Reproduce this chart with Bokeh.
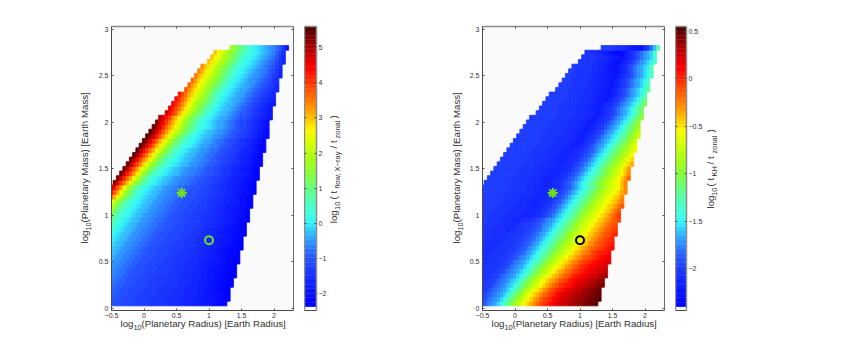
import math
from bokeh.embed import file_html
from bokeh.resources import INLINE
from bokeh.layouts import column, row
from bokeh.models import ColumnDataSource, FixedTicker, Label, LinearAxis, LinearColorMapper, Range1d
from bokeh.plotting import figure
from bokeh.transform import transform

# mass of each grid row, first radius column of each row, last radius column of each row
row_mass = [round(0.05 * i, 2) for i in range(1, 57)]
row_start = [0]*26 + [1,2,3,4,5,6,7,8,9,10,11,12,13,14,15,17,18,19,20,21,23,24,25,26,27,28,30,31,32,37]
row_end = [35,36,36,36,37,37,38,38,38,39,39,39,40,40,40,41,41,41,42,42,42,43,43,43,44,44,44,45,45,45,46,46,46,47,47,47,48,48,48,48,49,49,49,50,50,50,51,51,51,52,52,52,53,53,53,54]

# colour-bar level (0-62) read from each cell, left panel
flow_levels = [
[10,10,10,9,9,9,9,8,8,8,8,8,7,7,7,7,7,6,6,6,6,5,5,5,5,4,4,4,3,3,3,2,2,1,1,0],
[11,10,10,10,9,9,9,9,8,8,8,8,8,7,7,7,7,7,6,6,6,6,5,5,5,5,4,4,4,3,3,3,2,2,1,1,0],
[11,11,10,10,10,9,9,9,9,8,8,8,8,8,7,7,7,7,7,6,6,6,6,5,5,5,5,4,4,3,3,3,2,2,1,1,0],
[12,11,11,10,10,10,9,9,9,9,8,8,8,8,8,7,7,7,7,7,6,6,6,5,5,5,5,4,4,3,3,2,2,1,1,0,0],
[12,12,11,11,10,10,10,9,9,9,9,8,8,8,8,8,7,7,7,7,7,6,6,6,5,5,5,4,4,3,3,2,2,1,1,1,0,0],
[13,12,12,11,11,10,10,10,9,9,9,9,8,8,8,8,8,7,7,7,7,6,6,6,6,5,5,5,4,4,3,3,2,2,1,1,0,0],
[13,13,12,12,11,11,10,10,10,9,9,9,9,8,8,8,8,8,7,7,7,7,6,6,6,5,5,5,4,4,3,3,2,2,1,1,0,0,0],
[14,13,13,12,12,11,11,10,10,10,9,9,9,9,8,8,8,8,7,7,7,7,6,6,6,6,5,5,4,4,3,3,2,2,2,1,1,0,0],
[14,14,13,13,12,12,11,11,10,10,10,9,9,9,9,8,8,8,8,7,7,7,7,6,6,6,5,5,5,4,4,3,3,2,2,1,1,0,0],
[15,14,14,13,13,12,12,11,11,10,10,10,9,9,9,9,8,8,8,8,7,7,7,6,6,6,6,5,5,4,4,3,3,3,2,2,1,1,0,0],
[16,15,14,14,13,13,12,12,11,11,10,10,10,9,9,9,9,8,8,8,8,7,7,7,6,6,6,5,5,5,4,4,3,3,2,2,1,1,0,0],
[16,16,15,14,14,13,13,12,12,11,11,10,10,10,9,9,9,9,8,8,8,7,7,7,7,6,6,6,5,5,4,4,3,3,2,2,1,1,1,0],
[17,16,16,15,14,14,13,13,12,12,11,11,10,10,10,9,9,9,9,8,8,8,8,7,7,7,6,6,6,5,5,4,4,3,3,2,2,1,1,0,0],
[18,17,16,16,15,14,14,13,13,12,12,11,11,10,10,10,9,9,9,9,8,8,8,7,7,7,7,6,6,5,5,5,4,4,3,3,2,2,1,1,0],
[19,18,17,16,16,15,14,14,13,13,12,12,11,11,10,10,10,9,9,9,9,8,8,8,7,7,7,6,6,6,5,5,4,4,3,3,2,2,1,1,0],
[20,19,18,17,16,16,15,14,14,13,13,12,12,11,11,10,10,10,9,9,9,9,8,8,8,7,7,7,6,6,5,5,5,4,4,3,3,2,2,1,1,0],
[21,20,19,18,17,16,16,15,14,14,13,13,12,12,11,11,10,10,10,9,9,9,9,8,8,8,7,7,7,6,6,5,5,4,4,3,3,2,2,1,1,0],
[23,21,20,19,18,17,16,16,15,14,14,13,13,12,12,11,11,10,10,10,9,9,9,8,8,8,8,7,7,6,6,6,5,5,4,4,3,3,2,1,1,0],
[25,23,21,20,19,18,17,16,16,15,14,14,13,13,12,12,11,11,10,10,10,9,9,9,8,8,8,8,7,7,6,6,6,5,5,4,4,3,3,2,1,1,0],
[28,25,23,21,20,19,18,17,16,16,15,14,14,13,13,12,12,11,11,10,10,10,9,9,9,8,8,8,7,7,7,6,6,5,5,4,4,3,3,2,2,1,0],
[31,28,25,23,21,20,19,18,17,16,16,15,14,14,13,13,12,12,11,11,10,10,10,9,9,9,8,8,8,7,7,6,6,5,5,4,4,3,3,2,2,1,0],
[35,31,28,25,23,21,20,19,18,17,16,16,15,14,14,13,13,12,12,11,11,10,10,10,9,9,9,8,8,8,7,7,6,6,5,5,4,4,3,3,2,2,1,0],
[39,35,31,28,25,23,21,20,19,18,17,16,16,15,14,14,13,13,12,12,11,11,10,10,10,9,9,9,8,8,7,7,7,6,6,5,5,4,4,3,2,2,1,0],
[47,43,38,34,30,27,24,22,20,19,18,17,16,16,15,14,14,13,13,12,12,11,11,10,10,10,9,9,9,8,8,7,7,6,6,5,5,4,4,3,2,2,1,0],
[53,48,44,39,34,30,27,24,22,20,19,18,17,16,16,15,14,14,13,13,12,12,11,11,10,10,10,9,9,9,8,8,7,7,6,6,5,5,4,3,3,2,2,1,0],
[58,53,48,44,39,34,30,27,24,22,20,19,18,17,16,16,15,14,14,13,13,12,12,11,11,10,10,10,9,9,8,8,7,7,6,6,5,5,4,4,3,2,2,1,0],
[60,55,50,46,42,37,33,29,26,24,22,20,19,18,17,16,16,15,14,14,13,13,12,12,11,11,10,10,9,9,8,8,7,7,6,5,5,4,4,3,2,2,1,0],
[61,56,51,47,43,38,34,30,27,24,22,20,19,18,17,16,16,15,14,14,13,13,12,12,11,11,10,10,9,9,8,8,7,7,6,5,5,4,4,3,2,2,1,0],
[61,57,52,48,44,40,35,31,28,25,23,21,20,19,18,17,16,16,15,14,14,13,13,12,12,11,11,10,10,9,9,8,7,7,6,5,5,4,4,3,2,1,0],
[61,57,52,48,44,40,36,32,29,26,24,22,20,19,18,17,16,16,15,14,14,13,13,12,12,11,10,10,9,9,8,7,7,6,5,5,4,3,3,2,1,0],
[61,58,53,49,45,41,37,33,30,27,25,23,21,20,19,18,17,16,16,15,14,14,13,13,12,11,11,10,10,9,8,8,7,6,6,5,4,4,3,2,1,0],
[61,58,53,49,45,42,38,34,31,28,25,23,21,20,19,18,17,16,16,15,14,14,13,13,12,11,11,10,9,9,8,7,7,6,5,4,4,3,2,1,0],
[62,58,54,50,46,42,38,34,31,28,26,24,22,20,19,18,17,16,16,15,14,14,13,12,12,11,10,10,9,8,8,7,6,5,5,4,3,2,1,0],
[62,58,54,50,46,43,39,35,32,29,26,24,22,21,19,18,17,16,16,15,14,14,13,12,12,11,10,10,9,8,8,7,6,5,5,4,3,2,1,1],
[62,59,55,51,47,43,40,36,33,30,27,25,23,21,20,19,18,17,16,15,15,14,13,13,12,11,10,10,9,8,7,7,6,5,4,3,2,1,1],
[62,59,55,51,47,43,40,36,33,30,27,25,23,21,20,19,18,17,16,15,15,14,13,12,12,11,10,9,9,8,7,6,5,5,4,3,2,1],
[62,59,56,52,48,44,41,37,34,31,28,26,24,22,20,19,18,17,16,16,15,14,14,13,12,11,11,10,9,8,8,7,6,5,4,3,2,1],
[62,59,56,52,48,44,41,38,35,32,29,27,25,23,21,19,18,17,16,16,15,14,14,13,12,11,10,10,9,8,7,6,5,4,3,2,1],
[61,58,55,51,47,44,41,38,35,32,29,27,25,23,21,20,19,18,17,16,15,15,14,13,12,11,10,9,9,8,7,6,5,4,3,2],
[60,57,54,50,46,43,40,37,34,31,28,26,24,22,20,19,18,17,16,15,15,14,13,12,11,10,9,9,8,7,6,5,4,3,2],
[58,55,52,49,45,42,39,36,33,30,28,26,24,22,20,19,18,17,16,15,15,14,13,12,11,10,10,9,8,7,6,5,4,3,3],
[56,53,50,47,43,40,37,34,31,29,27,25,23,21,19,18,17,16,16,15,14,13,12,11,11,10,9,8,7,6,5,4,3],
[55,52,49,46,43,40,37,34,31,29,27,25,23,21,19,18,17,16,16,15,14,13,12,11,10,9,8,7,6,5,4,3],
[54,51,48,45,42,39,36,33,31,29,27,25,23,21,19,18,17,16,16,15,14,13,12,11,10,9,8,7,6,5,4,3],
[53,50,47,44,41,38,36,33,31,29,27,25,23,21,19,18,17,16,15,15,14,13,12,11,10,9,8,7,6,5,4],
[52,49,46,43,41,38,35,33,31,28,26,24,22,20,19,18,17,16,15,15,14,13,12,11,10,9,8,7,6,5],
[48,45,42,40,37,35,32,30,28,26,24,22,20,19,18,17,16,15,15,14,13,12,11,10,9,8,7,6,5],
[47,44,42,39,37,34,32,30,28,26,24,22,20,19,18,17,16,15,15,14,13,12,11,10,9,8,7,5],
[47,44,41,39,36,34,32,30,28,26,24,22,20,19,18,17,16,15,14,14,13,12,11,10,9,7,6],
[46,43,41,38,36,34,32,30,28,26,24,22,20,19,18,17,16,15,14,14,13,12,11,10,8,7,5],
[45,43,40,38,36,33,31,29,27,25,23,21,20,19,18,17,16,15,14,13,13,12,10,9,7,5],
[45,42,40,37,35,33,31,29,27,25,23,21,20,19,18,17,16,15,14,13,12,11,10,8,6],
[42,40,37,35,33,31,29,27,25,23,21,20,19,18,17,16,15,14,13,12,11,9,7,5],
[42,39,37,35,33,31,29,27,25,23,21,20,19,18,17,16,15,14,13,12,10,8,5],
[42,39,37,35,32,30,28,26,24,22,21,20,19,18,17,16,15,14,13,11,9,6],
[32,30,28,26,24,22,20,19,18,17,16,15,14,13,12,10,7,3],
]

# colour-bar level (0-62) read from each cell, right panel
kh_levels = [
[9,11,13,14,15,17,20,23,26,29,31,34,37,39,41,43,45,47,49,50,51,53,54,55,56,56,57,58,58,59,59,60,60,61,61,62],
[8,10,12,13,14,15,17,20,23,26,29,31,34,37,39,41,43,45,47,49,50,51,53,54,55,56,56,57,58,58,59,59,60,60,61,61,62],
[8,9,11,12,13,14,15,17,20,23,26,29,31,34,37,39,41,43,45,47,48,50,51,53,54,55,56,56,57,58,58,59,59,60,60,61,61],
[8,8,9,11,12,13,14,15,17,20,22,25,28,31,34,36,38,40,42,44,46,48,49,51,52,53,54,55,56,56,57,58,58,59,60,60,61],
[7,8,8,9,11,12,13,14,16,17,20,22,25,28,30,33,35,37,39,41,43,45,47,48,50,51,52,53,54,55,56,56,57,58,58,59,60,60],
[7,7,8,8,9,11,12,13,14,16,17,19,22,25,28,30,33,35,37,39,41,43,44,46,48,49,50,52,53,54,55,55,56,57,57,58,59,59],
[7,7,7,8,8,9,11,12,13,14,15,17,19,21,24,27,29,32,34,36,38,40,42,43,45,47,48,49,51,52,53,54,54,55,56,56,57,58,58],
[7,7,7,7,8,8,9,10,12,13,14,15,17,19,21,24,26,29,31,33,35,37,39,41,43,44,46,47,49,50,51,52,53,54,55,55,56,56,57],
[6,7,7,7,7,8,8,9,10,12,13,14,15,17,19,21,24,26,28,31,33,35,37,39,40,42,44,45,47,48,50,51,52,53,54,54,55,55,56],
[6,6,7,7,7,7,8,8,9,10,12,13,14,15,17,19,21,23,25,28,30,32,34,36,38,40,41,43,45,46,48,49,50,51,52,53,54,54,55,55],
[6,6,6,7,7,7,7,8,8,9,10,11,13,14,15,17,19,21,23,25,27,30,32,34,36,37,39,41,42,44,45,47,48,49,50,51,52,53,54,54],
[6,6,6,6,7,7,7,7,8,8,9,10,11,12,14,15,17,19,21,23,25,27,29,31,33,35,37,38,40,42,43,45,46,47,49,50,51,52,52,53],
[6,6,6,6,6,7,7,7,7,8,8,9,10,11,12,14,15,17,19,21,23,25,27,29,31,33,35,36,38,40,41,43,44,46,47,48,49,50,51,52,53],
[7,6,6,6,6,6,7,7,7,7,8,8,9,10,11,12,14,15,17,19,21,23,25,27,29,31,33,35,36,38,39,41,42,44,45,47,48,49,50,51,52],
[7,7,6,6,6,6,6,7,7,7,7,8,8,9,10,11,12,14,15,17,19,21,23,25,27,29,31,33,35,36,38,39,41,42,44,45,47,48,49,50,51],
[7,7,7,6,6,6,6,6,7,7,7,7,8,8,9,10,11,12,14,15,17,19,21,23,25,27,29,31,33,35,36,38,39,41,42,44,45,47,48,49,50,51],
[7,7,7,7,6,6,6,6,5,6,6,7,7,8,8,9,10,11,12,14,15,17,19,21,23,25,27,29,31,33,35,36,38,39,41,42,44,45,47,48,49,50],
[8,7,7,7,7,6,6,6,6,5,5,6,7,7,8,8,9,10,11,13,14,15,17,19,21,23,25,27,29,31,33,35,36,38,39,41,42,44,45,47,48,49],
[8,8,7,7,7,7,6,6,6,6,5,5,6,6,7,7,8,9,10,11,13,14,15,17,19,21,23,25,27,29,31,33,35,36,38,39,41,42,44,45,47,48,49],
[8,8,8,7,7,7,7,7,6,6,6,6,5,5,5,5,6,6,7,8,10,11,13,15,17,19,21,23,25,27,29,31,33,35,36,38,39,41,42,44,46,48,50],
[8,8,8,8,7,7,7,7,7,6,6,6,6,5,5,5,5,6,6,7,8,10,11,13,15,17,19,21,23,25,27,29,31,33,35,36,38,39,41,42,44,46,48],
[8,8,8,8,8,7,7,7,7,7,6,6,6,6,5,5,5,5,6,6,7,8,10,11,13,15,17,19,21,23,25,27,29,31,33,35,36,38,39,41,42,44,46,48],
[8]*6+[7,7,7,7,7,6,6,6,6,5,5,5,5,6,6,7,8,10,11,13,15,17,19,21,23,25,27,29,31,33,35,36,38,39,41,42,44,46],
[8]*7+[7,7,7,7,7,6,6,6,6,5,5,5,5,6,6,7,8,10,11,13,15,17,19,21,23,25,27,29,31,33,35,36,38,39,41,42,45],
[8]*8+[7,7,7,7,7,6,6,6,6,5,5,5,5,6,6,7,8,10,11,13,15,17,19,21,23,25,27,29,31,33,35,36,38,39,41,43,45],
[8]*9+[7,7,7,7,7,6,6,6,6,5,5,5,5,6,6,7,8,10,11,13,15,17,19,21,23,25,27,29,31,33,35,36,38,39,42,45],
[8]*8+[7,7,7,7,7,6,6,6,6,5,5,5,5,6,6,7,8,10,11,13,15,17,19,21,23,25,27,29,31,33,35,36,38,39,42,45],
[8]*8+[7,7,7,7,7,6,6,6,6,5,5,5,5,6,6,7,8,10,11,13,15,17,19,21,23,25,27,29,31,33,35,37,39,41,44,47],
[8]*8+[7,7,7,7,7,6,6,6,6,5,5,5,5,6,6,7,8,10,11,13,15,17,19,21,23,25,27,29,31,33,35,37,39,42,45],
[8]*8+[7,7,7,7,7,6,6,6,6,5,5,5,5,6,6,7,8,10,11,13,15,17,19,21,24,26,28,30,32,34,36,38,41,44],
[8]*8+[7,7,7,7,7,6,6,6,6,5,5,5,5,6,6,7,8,10,11,13,15,17,19,21,24,26,28,30,32,34,36,38,41,43],
[8]*8+[7,7,7,7,7,6,6,6,6,5,5,5,5,6,6,7,8,10,11,13,15,17,19,21,24,26,28,30,32,34,36,38,41],
[8]*8+[7,7,7,7,7,6,6,6,6,5,5,5,5,6,6,7,8,10,11,13,15,17,19,21,24,26,28,30,32,34,36,39],
[8]*8+[7,7,7,7,7,6,6,6,6,5,5,5,5,6,6,7,8,10,11,13,15,17,19,21,24,26,28,30,32,34,36,39],
[8]*8+[7,7,7,7,7,6,6,6,6,5,5,4,4,5,6,7,8,10,12,14,15,17,19,21,24,26,28,30,32,35,38],
[8]*8+[7,7,7,7,7,6,6,6,6,5,5,4,4,5,6,7,8,10,12,14,15,17,19,21,24,26,28,30,33,36],
[8]*8+[7,7,7,7,7,6,6,6,6,5,5,4,4,5,6,7,8,10,12,14,15,17,19,21,24,26,28,30,33,36],
[8]*8+[7,7,7,7,7,6,6,6,6,5,5,4,4,5,6,7,8,10,12,14,15,17,19,21,24,26,29,31,34],
[8]*8+[7,7,7,7,7,6,6,6,6,5,5,4,4,5,6,7,8,10,12,14,15,17,19,22,25,27,29,32],
[8]*8+[7,7,7,7,7,6,6,6,6,5,5,4,4,5,6,7,8,10,12,14,15,17,19,22,25,28,31],
[8]*8+[7,7,7,7,7,6,6,6,6,5,5,4,4,5,6,7,8,10,12,14,15,17,19,22,25,28,30],
[8]*7+[7,7,7,7,7,6,6,6,6,5,5,4,4,5,6,7,8,10,12,14,15,17,19,22,25,28],
[8]*6+[7,7,7,7,7,6,6,6,6,5,5,4,4,5,6,7,8,10,12,14,15,17,19,22,25,27],
[8]*6+[7,7,7,7,7,6,6,6,6,5,5,4,4,5,6,7,8,10,12,14,15,17,19,22,25,28],
[8]*6+[7,7,7,7,7,6,6,6,5,5,4,4,3,4,5,7,8,10,12,14,15,17,19,22,26],
[8]*6+[7,7,7,7,7,6,6,6,5,5,4,4,3,4,5,7,8,10,12,14,15,17,19,23],
[8]*4+[7,7,7,7,7,6,6,6,5,5,4,4,3,4,5,7,8,10,12,14,15,17,19,22,25],
[8]*4+[7,7,7,7,7,6,6,6,5,5,4,4,3,4,5,7,8,10,12,14,15,17,19,23],
[8]*3+[7,7,7,7,7,6,6,5,5,4,4,3,3,4,5,7,8,10,12,14,15,17,19,22],
[8]*3+[7,7,7,7,7,6,6,5,5,4,4,3,3,4,5,7,8,10,12,14,15,17,19,22],
[8,8]+[7,7,7,7,7,6,6,5,5,4,3,3,2,3,5,6,8,10,12,14,15,17,19,23],
[8]+[7,7,7,7,7,6,6,5,5,4,3,3,2,3,5,6,8,10,12,14,15,17,18,24],
[7,7,7,7,7,6,6,5,5,4,3,3,2,3,5,6,8,10,12,14,15,17,19,22],
[7,7,7,7,7,6,6,5,5,4,3,3,2,3,5,6,8,10,12,14,15,17,21],
[7,7,6,6,5,5,4,3,2,1,1,1,3,5,6,8,10,12,14,15,17,22],
[8,8,8,8,7,7,6,6,5,4,3,3,3,5,8,12,16,24],
]

# colour-bar range and white foot of each bar, tick values and labels
flow_low, flow_high, flow_foot = -2.37, 5.6, -2.48
kh_low, kh_high, kh_foot = -2.40, 0.55, -2.44
x_ticks = [-0.5, 0.0, 0.5, 1.0, 1.5, 2.0]
x_tick_labels = ["\u22120.5", "0", "0.5", "1", "1.5", "2"]
y_ticks = [0.0, 0.5, 1.0, 1.5, 2.0, 2.5, 3.0]
y_tick_labels = ["0", "0.5", "1", "1.5", "2", "2.5", "3"]
flow_ticks = [-2.0, -1.0, 0.0, 1.0, 2.0, 3.0, 4.0, 5.0]
flow_tick_labels = ["\u22122", "\u22121", "0", "1", "2", "3", "4", "5"]
kh_ticks = [-2.0, -1.5, -1.0, -0.5, 0.0, 0.5]
kh_tick_labels = ["\u22122", "\u22121.5", "\u22121", "\u22120.5", "0", "0.5"]
star_radius, star_mass = [0.58], [1.24]
ring_radius, ring_mass = [1.0], [0.73]

STOPS = [(0,0,0,255),(.05,10,22,255),(.12,28,55,255),(.17,38,85,255),(.22,45,140,255),(.26,50,190,255),
         (.30,50,245,250),(.34,70,255,215),(.40,90,255,160),(.47,130,255,60),(.53,170,255,20),(.60,225,255,0),
         (.63,250,250,0),(.68,255,190,0),(.74,255,120,0),(.80,255,60,0),(.86,255,0,0),(.92,190,0,0),(1,85,0,0)]

def stop_colour(f):
    for a, b in zip(STOPS, STOPS[1:]):
        if f <= b[0]:
            t = (f - a[0]) / (b[0] - a[0])
            return "#%02x%02x%02x" % tuple(round(a[i] + t * (b[i] - a[i])) for i in (1, 2, 3))
    return "#550000"

PALETTE = [stop_colour(i / 62) for i in range(63)]
FONT = "Liberation Sans"
DARK, GREY, TICK = "#4a4a4a", "#8c8c8c", "#505050"
GREEN = "#72e21a"
UP = math.pi / 2
BIG, SMALL = 9.7, 7.5
LIFT = 4.5  # the baseline a Label lands on sits this far below the one asked for

def text_strip(frame_left, frame_bottom, width, height, items):
    # a plain figure without axes that only holds titles; items are (page x, page baseline y, text, size, angle)
    f = figure(width=width, height=height, output_backend="svg", toolbar_location=None, tools="",
               x_range=Range1d(0, width), y_range=Range1d(0, height), x_axis_type=None, y_axis_type=None,
               min_border=0, min_border_left=0, min_border_right=0, min_border_top=0, min_border_bottom=0,
               outline_line_color=None, background_fill_color="#ffffff")
    f.grid.visible = False
    for px, py, s, size, angle in items:
        x, y = px - frame_left, frame_bottom - py
        if angle:
            x -= LIFT
        else:
            y += LIFT
        f.add_layout(Label(x=x, y=y, x_units="screen", y_units="screen", text=s,
                           text_font=FONT, text_font_size=f"{size}px", text_color="#303030", angle=angle,
                           text_align="left", text_baseline="alphabetic"))
    return f

def style_axis(ax, ticks, labels=None, color=DARK, standoff=3, line_width=1):
    ax.ticker = FixedTicker(ticks=ticks)
    ax.major_tick_in, ax.major_tick_out = 2, 0
    ax.minor_tick_line_color = None
    ax.axis_line_color = color
    ax.axis_line_width = line_width
    ax.major_tick_line_color = TICK
    ax.major_label_standoff = standoff
    ax.major_label_text_font = FONT
    ax.major_label_text_font_size = "7px"
    ax.major_label_text_color = "#303030"
    ax.major_label_overrides = dict(zip(ticks, labels if labels else [""] * len(ticks)))

def panel(levels, low, high, ring_colour):
    p = figure(width=209, height=320, output_backend="svg", toolbar_location=None,
               x_range=Range1d(-0.5, 2.3), y_range=Range1d(-0.025, 3.03),
               min_border_left=15, min_border_right=11, min_border_top=26, min_border_bottom=10,
               background_fill_color="#fafafa", outline_line_color=None, tools="")
    p.grid.visible = False
    step = (high - low) / 63
    l, r, b, t, v = [], [], [], [], []
    for m, s, e, vals in zip(row_mass, row_start, row_end, levels):
        n = e - s + 1
        vals = (list(vals) + [vals[-1]] * n)[:n]
        for k, lev in zip(range(s, e + 1), vals):
            centre = -0.5 + 0.05 * k
            l.append(centre - 0.025); r.append(centre + 0.025)
            b.append(m - 0.025); t.append(m + 0.025)
            v.append(low + (lev + 0.5) * step)
    mapper = LinearColorMapper(palette=PALETTE, low=low, high=high)
    p.quad(left="l", right="r", bottom="b", top="t", source=ColumnDataSource(dict(l=l, r=r, b=b, t=t, v=v)),
           fill_color=transform("v", mapper), line_color=transform("v", mapper), line_width=0.8)
    p.scatter(star_radius, star_mass, marker="asterisk", size=10, line_color=GREEN, line_width=2)
    p.scatter(ring_radius, ring_mass, marker="circle", size=8, fill_color=None, line_color=ring_colour, line_width=2)
    style_axis(p.xaxis[0], x_ticks, x_tick_labels, standoff=2)
    style_axis(p.yaxis[0], y_ticks, y_tick_labels, standoff=3)
    top = LinearAxis(); style_axis(top, x_ticks, color=GREY, line_width=1.5, standoff=0); p.add_layout(top, "above")
    right = LinearAxis(); style_axis(right, y_ticks, color="#6a6a6a", standoff=0); p.add_layout(right, "right")
    return p

def bar(low, high, foot, ticks, labels, width, bar_px):
    c = figure(width=width, height=341, output_backend="svg", toolbar_location=None,
               x_range=Range1d(0, 1), y_range=Range1d(foot, high),
               min_border_left=0, min_border_right=width - bar_px, min_border_top=26, min_border_bottom=31,
               background_fill_color="#ffffff", outline_line_color=None, tools="")
    c.grid.visible = False
    step = (high - low) / 63
    edges = [low + i * step for i in range(63)]
    c.quad(left=0, right=1, bottom=edges, top=[e + step for e in edges], fill_color=PALETTE, line_color=PALETTE, line_width=0.4)
    c.xaxis.visible = False
    style_axis(c.yaxis[0], ticks, color=GREY, line_width=1.5, standoff=0)
    c.yaxis[0].major_label_text_font_size = "1px"
    right = LinearAxis(); style_axis(right, ticks, labels, color=GREY, standoff=2, line_width=1.5); c.add_layout(right, "right")
    top = LinearAxis(ticker=FixedTicker(ticks=[]), axis_line_color=GREY, axis_line_width=1.5, major_tick_line_color=None, minor_tick_line_color=None)
    c.add_layout(top, "above")
    bottom = LinearAxis(ticker=FixedTicker(ticks=[]), axis_line_color=DARK, major_tick_line_color=None, minor_tick_line_color=None)
    c.add_layout(bottom, "below")
    return c

def x_title(frame_left, start):
    # in a column this strip's frame lines up with the panel's frame above it
    return text_strip(frame_left, 341, 209, 21, [
        (start, 327.5, "log", BIG, 0.0),
        (start + 12.9, 331.5, "10", SMALL, 0.0),
        (start + 21, 327.5, "(Planetary Radius) [Earth Radius]", BIG, 0.0)])

def y_items(base):
    return [(base, 243, "log", BIG, UP), (base + 4, 230.1, "10", SMALL, UP),
            (base, 222, "(Planetary Mass) [Earth Mass]", BIG, UP)]

# in a row each strip's frame lines up with the panels' frames, whose bottom is at page y 310
lab_left = text_strip(0, 310, 95, 341, y_items(88))
left_col = column(panel(flow_levels, flow_low, flow_high, GREEN), x_title(110, 119), spacing=0)
c1 = bar(flow_low, flow_high, flow_foot, flow_ticks, flow_tick_labels, 25, 14)
lab_mid = text_strip(329, 310, 137, 341, y_items(460) + [
    (337, 222.7, "log", BIG, UP), (341, 209.5, "10", SMALL, UP), (337, 199, "( t", BIG, UP),
    (341, 188, "flow, X\u2212ray", SMALL, UP), (337, 148, "/ t", BIG, UP),
    (341, 138, "zonal", SMALL, UP), (337, 118, ")", BIG, UP)])
right_col = column(panel(kh_levels, kh_low, kh_high, "#000000"), x_title(481, 490), spacing=0)
c2 = bar(kh_low, kh_high, kh_foot, kh_ticks, kh_tick_labels, 30, 13)
lab_right = text_strip(705, 310, 55, 341, [
    (714, 208, "log", BIG, UP), (718, 195.5, "10", SMALL, UP), (714, 186, "( t", BIG, UP),
    (718, 176, "KH", SMALL, UP), (714, 164, "/ t", BIG, UP),
    (718, 153, "zonal", SMALL, UP), (714, 132, ")", BIG, UP)])

layout = row(lab_left, left_col, c1, lab_mid, right_col, c2, lab_right, spacing=0)
open("out.html", "w").write(file_html(layout, INLINE))
